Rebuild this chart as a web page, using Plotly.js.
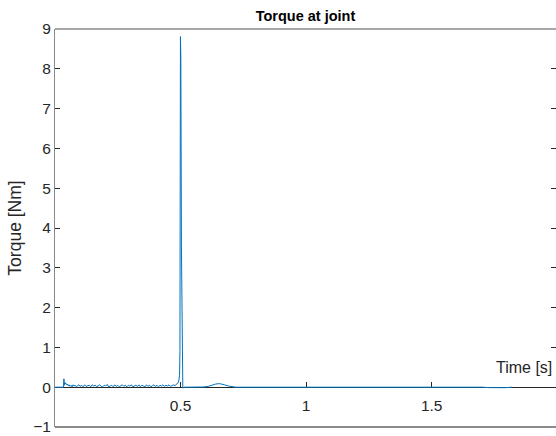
<!DOCTYPE html>
<html>
<head>
<meta charset="utf-8">
<script src="https://cdn.plot.ly/plotly-3.0.1.min.js"></script>
<style>html,body{margin:0;padding:0;background:#fff;}#chart{width:556px;height:436px;}</style>
</head>
<body>
<div id="chart"></div>
<script>
// Time [s]
const time = [
  0, 0.01, 0.02, 0.03, 0.034,
  0.0355, 0.037, 0.039, 0.041, 0.043, 0.046, 0.049, 0.052,
  0.056, 0.06, 0.064, 0.068, 0.072, 0.076, 0.08, 0.085, 0.09, 0.095,
  0.1, 0.106, 0.112, 0.118, 0.124, 0.13, 0.136, 0.142, 0.148, 0.154,
  0.16, 0.166, 0.172, 0.178, 0.184, 0.19, 0.196, 0.202, 0.208, 0.214,
  0.22, 0.226, 0.232, 0.238, 0.244, 0.25, 0.256, 0.262, 0.268, 0.274,
  0.28, 0.286, 0.292, 0.298, 0.304, 0.31, 0.316, 0.322, 0.328, 0.334,
  0.34, 0.346, 0.352, 0.358, 0.364, 0.37, 0.376, 0.382, 0.388, 0.394,
  0.4, 0.406, 0.412, 0.418, 0.424, 0.43, 0.436, 0.442, 0.448, 0.454,
  0.46, 0.466, 0.472, 0.478, 0.484, 0.488, 0.491, 0.494, 0.496,
  0.4975, 0.4995, 0.501, 0.5035, 0.506, 0.509, 0.515,
  0.53, 0.55, 0.57, 0.59, 0.61, 0.625, 0.64, 0.655, 0.665, 0.675,
  0.69, 0.705, 0.72, 0.735, 0.75, 0.78, 0.82, 0.86, 0.9, 0.95,
  1.0, 1.05, 1.1, 1.15, 1.2, 1.22, 1.25, 1.28, 1.31, 1.34,
  1.37, 1.4, 1.43, 1.46, 1.5, 1.55, 1.6, 1.65, 1.7, 1.73,
  1.75, 1.77, 1.79, 1.81, 1.82
];
// Torque [Nm]
const torque = [
  0, 0, 0, 0, 0,
  0.21, 0.05, 0.12, 0.08, 0.1, 0.06, 0.08, 0.04,
  0.06, 0.02, 0.05, 0.01, 0.06, 0.03, 0.05, 0.01, 0.04, 0.06,
  0.02, 0.05, 0.01, 0.06, 0.02, 0.04, 0.05, 0.01, 0.06, 0.03,
  0.05, 0.01, 0.04, 0.06, 0.02, 0.01, 0.05, 0.03, 0.07, 0.01,
  0.03, 0.05, 0.01, 0.06, 0.02, 0.05, 0.01, 0.04, 0.06, 0.02,
  0.05, 0.01, 0.05, 0.03, 0.06, 0.01, 0.04, 0.05, 0.02, 0.06,
  0.01, 0.05, 0.03, 0.01, 0.06, 0.02, 0.05, 0.01, 0.04, 0.06,
  0.02, 0.05, 0.01, 0.05, 0.03, 0.06, 0.02, 0.05, 0.03, 0.06,
  0.02, 0.05, 0.06, 0.04, 0.07, 0.09, 0.12, 0.2, 0.3,
  0.9, 8.81, 8.3, 3.5, 0.1, -0.02, 0.0,
  0.0, 0.0, 0.0, 0.005, 0.02, 0.05, 0.08, 0.09, 0.08, 0.06,
  0.03, 0.01, 0.0, 0.0, 0.0, 0.0, 0.0, 0.0, 0.0, 0.0,
  0.0, 0.0, 0.005, 0.0, 0.01, 0.005, 0.012, 0.006, 0.01, 0.004,
  0.01, 0.006, 0.01, 0.0, 0.0, 0.0, 0.0, 0.0, 0.0, -0.01,
  -0.015, -0.01, -0.012, -0.005, 0.0
];
const xTicks = [0.5, 1, 1.5];
const yTicks = [-1, 0, 1, 2, 3, 4, 5, 6, 7, 8, 9];

const frameColor = '#8a8a8a';
const txt = '#262626';
const font = 'Liberation Sans, Arial, sans-serif';

const trace = {
  x: time, y: torque, type: 'scatter', mode: 'lines',
  line: {color: '#0072BD', width: 1}, hoverinfo: 'skip'
};

const layout = {
  width: 556, height: 436,
  margin: {l: 55, r: 0, t: 29, b: 9, pad: 0},
  paper_bgcolor: '#fff', plot_bgcolor: '#fff',
  showlegend: false,
  font: {family: font, size: 15, color: txt},
  title: {text: '<b>Torque at joint</b>', font: {family: font, size: 14.5, color: '#000'},
          xref: 'paper', x: 0.5, xanchor: 'center', yref: 'container', y: 0.963, yanchor: 'middle'},
  xaxis: {
    range: [0, 1.995], anchor: 'free', position: 0.1,
    showline: true, linecolor: txt, linewidth: 1,
    ticks: 'inside', ticklen: 5, tickcolor: txt, tickwidth: 1,
    tickvals: xTicks, showgrid: false, zeroline: false,
    tickfont: {family: font, size: 15.5, color: txt},
    ticklabelstandoff: 4,
    layer: 'below traces', fixedrange: true
  },
  yaxis: {
    range: [-1, 9], tickvals: yTicks,
    showline: true, linecolor: frameColor, linewidth: 1, mirror: 'ticks',
    ticks: 'inside', ticklen: 5, tickcolor: txt, tickwidth: 1,
    showgrid: false, zeroline: false,
    tickfont: {family: font, size: 15.5, color: txt},
    title: {text: 'Torque [Nm]', font: {family: font, size: 17.5, color: txt}, standoff: 7},
    layer: 'below traces', fixedrange: true
  },
  shapes: [
    {type: 'line', xref: 'paper', yref: 'paper', x0: 0, x1: 1, y0: 1, y1: 1, line: {color: frameColor, width: 1.5}},
    {type: 'line', xref: 'paper', yref: 'paper', x0: 0, x1: 1, y0: 0, y1: 0, line: {color: frameColor, width: 2}}
  ],
  annotations: [
    {text: 'Time [s]', xref: 'paper', x: 1, xanchor: 'right', xshift: -2,
     yref: 'y', y: 0.5, yanchor: 'middle', showarrow: false,
     font: {family: font, size: 16, color: txt}}
  ]
};

Plotly.newPlot('chart', [trace], layout, {displayModeBar: false, staticPlot: true});
</script>
</body>
</html>
